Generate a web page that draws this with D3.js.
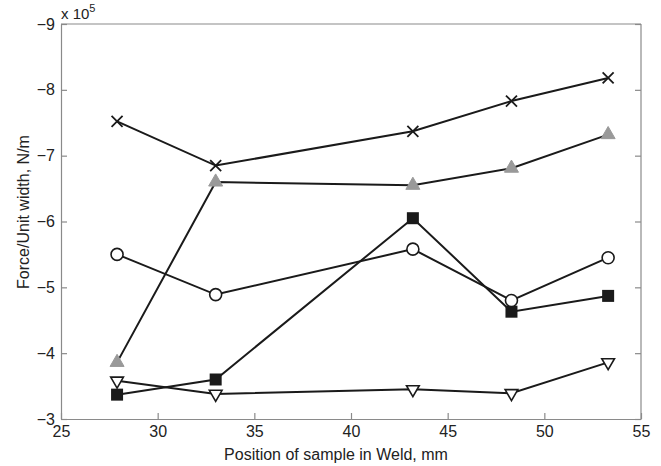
<!DOCTYPE html>
<html>
<head>
<meta charset="utf-8">
<script src="https://cdn.jsdelivr.net/npm/d3@7"></script>
<style>
  html, body { margin: 0; padding: 0; background: #fff; }
  svg { display: block; font-family: "Liberation Sans", Arial, Helvetica, sans-serif; }
</style>
</head>
<body>
<svg id="chart" width="661" height="466"></svg>
<script>
// Weld sample positions (mm)
const positions = [27.9, 33.0, 43.2, 48.3, 53.3];

// Force per unit width, in units of 1e5 N/m
const seriesCross    = [-7.52, -6.85, -7.37, -7.83, -8.18];
const seriesTriangle = [-3.86, -6.60, -6.55, -6.81, -7.32];
const seriesSquare   = [-3.37, -3.60, -6.05, -4.63, -4.87];
const seriesCircle   = [-5.50, -4.89, -5.58, -4.80, -5.45];
const seriesDownTri  = [-3.58, -3.38, -3.45, -3.39, -3.86];

const xTicks = [25, 30, 35, 40, 45, 50, 55];
const yTicks = [-9, -8, -7, -6, -5, -4, -3];

const svg = d3.select("#chart");
const mLeft = 61, mRight = 641, mTop = 24, mBottom = 419;

const x = d3.scaleLinear().domain([25, 55]).range([mLeft, mRight]);
const y = d3.scaleLinear().domain([-9, -3]).range([mTop, mBottom]);

const axisColor = "#8a8a8a";
const textColor = "#222";
const tickFont = 16, titleFont = 16;
const fmt = d => String(d).replace("-", "\u2212");

// frame lines (top and right)
const frame = svg.append("g").attr("stroke", axisColor).attr("stroke-width", 1.2).attr("fill", "none");
frame.append("line").attr("x1", mLeft).attr("x2", mRight).attr("y1", mTop).attr("y2", mTop);
frame.append("line").attr("x1", mRight).attr("x2", mRight).attr("y1", mTop).attr("y2", mBottom);

// bottom axis: ticks pointing inward
const gx = svg.append("g").attr("transform", `translate(0,${mBottom})`)
  .call(d3.axisTop(x).tickValues(xTicks).tickSize(6).tickSizeOuter(0));
gx.attr("font-size", tickFont).attr("font-family", null);
gx.select(".domain").attr("stroke", axisColor).attr("stroke-width", 1.2);
gx.selectAll(".tick line").attr("stroke", axisColor).attr("stroke-width", 1.2);
gx.selectAll(".tick text").attr("fill", textColor)
  .attr("y", 7).attr("dy", "0.71em");

// left axis: ticks pointing inward
const gy = svg.append("g").attr("transform", `translate(${mLeft},0)`)
  .call(d3.axisRight(y).tickValues(yTicks).tickSize(6).tickFormat(fmt).tickSizeOuter(0));
gy.attr("font-size", tickFont).attr("font-family", null);
gy.select(".domain").attr("stroke", axisColor).attr("stroke-width", 1.2);
gy.selectAll(".tick line").attr("stroke", axisColor).attr("stroke-width", 1.2);
gy.selectAll(".tick text").attr("fill", textColor)
  .attr("text-anchor", "end").attr("x", -6);

// right axis ticks, pointing inward, no labels
const gr = svg.append("g").attr("transform", `translate(${mRight},0)`)
  .call(d3.axisLeft(y).tickValues(yTicks).tickSize(6).tickFormat("").tickSizeOuter(0));
gr.select(".domain").remove();
gr.selectAll(".tick line").attr("stroke", axisColor).attr("stroke-width", 1.2);

// exponent note
const expo = svg.append("text").attr("x", 61).attr("y", 19).attr("fill", textColor)
  .attr("font-size", 15);
expo.append("tspan").text("x 10");
expo.append("tspan").attr("font-size", 11).attr("dy", -7).text("5");

// axis titles
svg.append("text").attr("x", 336).attr("y", 460)
  .attr("text-anchor", "middle").attr("fill", textColor).attr("font-size", titleFont)
  .text("Position of sample in Weld, mm");
svg.append("text").attr("transform", `translate(29,212) rotate(-90)`)
  .attr("text-anchor", "middle").attr("fill", textColor).attr("font-size", titleFont)
  .text("Force/Unit width, N/m");

const line = d3.line().x((d, i) => x(positions[i])).y(d => y(d));
const plot = svg.append("g");

const series = [
  { values: seriesCross, marker: "cross" },
  { values: seriesTriangle, marker: "triangle" },
  { values: seriesSquare, marker: "square" },
  { values: seriesCircle, marker: "circle" },
  { values: seriesDownTri, marker: "down" }
];

series.forEach(s => {
  plot.append("path").datum(s.values).attr("d", line)
    .attr("fill", "none").attr("stroke", "#1a1a1a").attr("stroke-width", 2);
});

series.forEach(s => {
  const g = plot.append("g");
  s.values.forEach((v, i) => {
    const cx = x(positions[i]), cy = y(v);
    if (s.marker === "cross") {
      const r = 5.5;
      g.append("path").attr("d", `M${cx - r},${cy - r}L${cx + r},${cy + r}M${cx - r},${cy + r}L${cx + r},${cy - r}`)
        .attr("stroke", "#1a1a1a").attr("stroke-width", 1.8).attr("fill", "none");
    } else if (s.marker === "triangle") {
      g.append("path").attr("transform", `translate(${cx},${cy})`)
        .attr("d", d3.symbol(d3.symbolTriangle, 85)())
        .attr("fill", "#999").attr("stroke", "#999").attr("stroke-width", 1);
    } else if (s.marker === "square") {
      g.append("rect").attr("x", cx - 6).attr("y", cy - 6).attr("width", 12).attr("height", 12)
        .attr("fill", "#1a1a1a");
    } else if (s.marker === "circle") {
      g.append("circle").attr("cx", cx).attr("cy", cy).attr("r", 6)
        .attr("fill", "#fff").attr("stroke", "#1a1a1a").attr("stroke-width", 1.6);
    } else if (s.marker === "down") {
      g.append("path").attr("transform", `translate(${cx},${cy}) rotate(180)`)
        .attr("d", d3.symbol(d3.symbolTriangle, 70)())
        .attr("fill", "#fff").attr("stroke", "#1a1a1a").attr("stroke-width", 1.6);
    }
  });
});
</script>
</body>
</html>
